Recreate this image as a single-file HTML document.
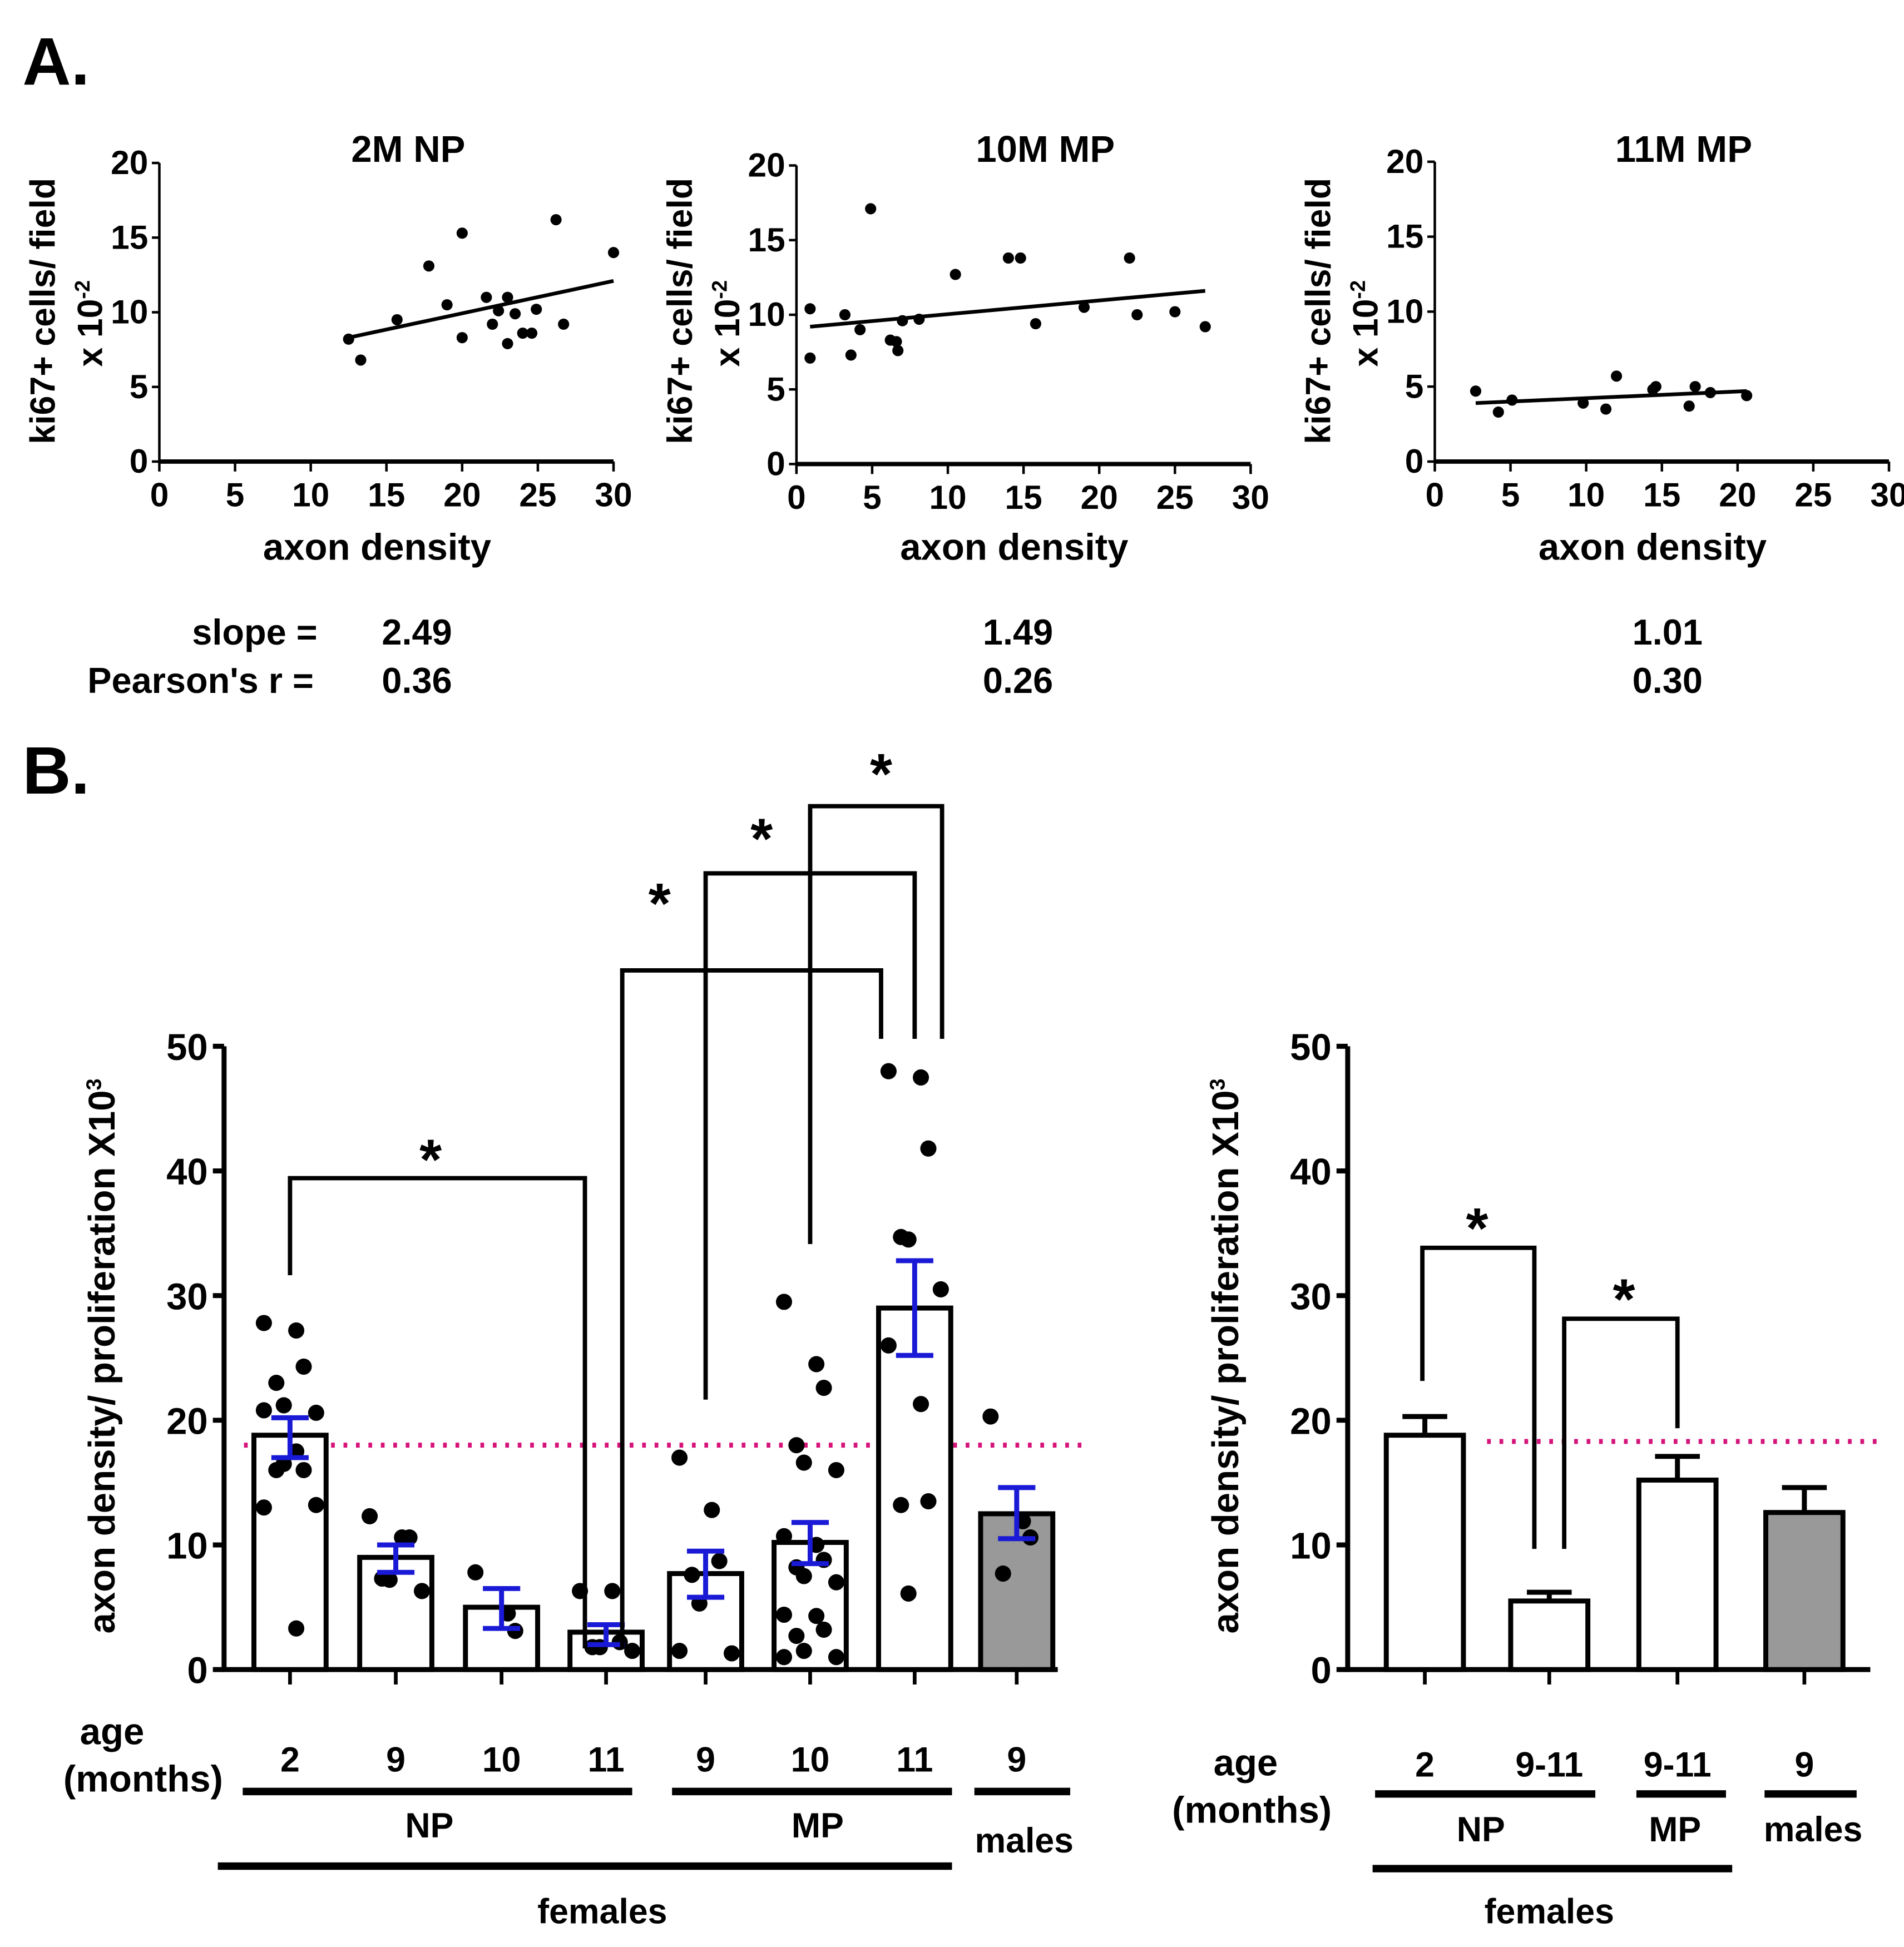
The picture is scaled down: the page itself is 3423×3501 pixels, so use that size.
<!DOCTYPE html>
<html><head><meta charset="utf-8"><style>
html,body{margin:0;padding:0;background:#fff}
svg{display:block;font-family:"Liberation Sans",Arial,sans-serif;font-weight:bold}
</style></head><body>
<svg id="fig" xmlns="http://www.w3.org/2000/svg" width="3423" height="3501" viewBox="0 0 1530 1565">
<rect width="1530" height="1565" fill="#fff"/>
<text x="18" y="68" font-size="54">A.</text>
<text x="18" y="638" font-size="54">B.</text>
<g id="gA"></g>
<g id="gB"></g>
<text x="255" y="518" font-size="29" text-anchor="end">slope =</text>
<text x="252" y="557" font-size="29" text-anchor="end">Pearson's r =</text>
</svg>
<script>
const NS="http://www.w3.org/2000/svg";
// ---- Panel A data ----
const scatterTitles=["2M NP","10M MP","11M MP"];
const scatterX1=[12.5,13.3,15.7,17.8,19,20,20,21.6,22,22.4,23,23,23.5,24,24.9,24.6,26.2,26.7,30];
const scatterY1=[8.2,6.8,9.5,13.1,10.5,15.3,8.3,11,9.2,10.1,11,7.9,9.9,8.6,10.2,8.6,16.2,9.2,14];
const scatterX2=[0.9,0.9,3.2,3.6,4.2,4.9,6.2,6.6,6.7,7,8.1,10.5,14,14.8,15.8,19,22,22.5,25,27];
const scatterY2=[10.4,7.1,10,7.3,9,17.1,8.3,8.2,7.6,9.6,9.7,12.7,13.8,13.8,9.4,10.5,13.8,10,10.2,9.2];
const scatterX3=[2.7,4.2,5.1,9.8,11.3,12,14.4,14.6,16.8,17.2,18.2,20.6];
const scatterY3=[4.7,3.3,4.1,3.9,3.5,5.7,4.8,5,3.7,5,4.6,4.4];
const fitLines=[[12.5,8.3,30,12.1],[0.9,9.2,27,11.6],[2.7,3.9,20.6,4.7]];
const slopes=["2.49","1.49","1.01"];
const pearson=["0.36","0.26","0.30"];
const xTicksA=[0,5,10,15,20,25,30];
const yTicksA=[0,5,10,15,20];
// ---- Panel B data ----
const groupAges=["2","9","10","11","9","10","11","9"];
const barMeans=[18.8,9,5,3,7.7,10.2,29,12.5];
const barLo=[17,7.8,3.3,2,5.8,8.5,25.2,10.5];
const barHi=[20.2,10,6.5,3.6,9.5,11.8,32.8,14.6];
const pts0=[27.8,27.2,24.3,23,21.2,20.6,20.8,17.5,16,16,16.5,13.2,13,3.3];
const pts1=[12.3,10.6,10.6,7.3,7.2,6.3];
const pts2=[7.8,4.5,3.1];
const pts3=[6.3,6.3,2.2,1.8,1.8,1.5];
const pts4=[17,12.8,8.7,7.6,5.3,1.3,1.5];
const pts5=[29.5,24.5,22.6,18,16.6,16,10.7,10,8.8,8.2,7.5,7,4.4,4.3,3.2,2.7,1.5,1,1];
const pts6=[48,47.5,41.8,34.7,34.5,30.5,26,21.3,13.5,13.2,6.1];
const pts7=[20.3,11.9,10.6,7.7];
const rightAges=["2","9-11","9-11","9"];
const rightMeans=[18.8,5.5,15.2,12.6];
const rightHi=[20.3,6.2,17.1,14.6];
const yTicksB=[0,10,20,30,40,50];
const refLine=18;

function el(p,tag,a,txt){const e=document.createElementNS(NS,tag);for(const k in a)e.setAttribute(k,a[k]);if(txt!==undefined)e.textContent=txt;p.appendChild(e);return e;}

const gA=document.getElementById('gA');
const origins=[[128,371,131,493],[640,373,133,1005],[1153,371,130,1518]];
const ptsets=[[scatterX1,scatterY1],[scatterX2,scatterY2],[scatterX3,scatterY3]];
const statX=[335,818,1340];
origins.forEach((o,i)=>{
  const [x0,y0,y20,x30]=o;
  const sx=v=>x0+(x30-x0)*v/30, sy=v=>y0-(y0-y20)*v/20;
  const g=el(gA,'g',{});
  
  
  const t=el(g,'text',{x:x0+200,y:130,'font-size':30,'text-anchor':'middle'},scatterTitles[i]);
  
  const ya=el(g,'path',{d:`M${x0},${y20}V${y0}`,stroke:'#000','stroke-width':2,fill:'none'});
  
  const xa=el(g,'path',{d:`M${x0},${y0}H${Math.min(x30,1530)}`,stroke:'#000','stroke-width':3.5,fill:'none'});
  
  yTicksA.forEach(v=>{el(g,'path',{d:`M${x0-6},${sy(v)}H${x0}`,stroke:'#000','stroke-width':2});
    const tl=el(g,'text',{x:x0-9,y:sy(v)+9,'font-size':27,'text-anchor':'end'},v);
    });
  xTicksA.forEach(v=>{el(g,'path',{d:`M${sx(v)},${y0}V${y0+8}`,stroke:'#000','stroke-width':2});
    const tl=el(g,'text',{x:sx(v),y:y0+36,'font-size':27,'text-anchor':'middle'},v);
    });
  const xl=el(g,'text',{x:x0+175,y:450,'font-size':30,'text-anchor':'middle'},'axon density');
  
  const yl=el(g,'text',{transform:`translate(${x0-84},250) rotate(-90)`,'font-size':28,'text-anchor':'middle'},'ki67+ cells/ field');
  
  const yl2=el(g,'text',{transform:`translate(${x0-46},260) rotate(-90)`,'font-size':28,'text-anchor':'middle'});
  
  el(yl2,'tspan',{},'x 10');el(yl2,'tspan',{dy:-10,'font-size':17},'-2');
  const L=fitLines[i];
  const fl=el(g,'line',{x1:sx(L[0]),y1:sy(L[1]),x2:sx(L[2]),y2:sy(L[3]),stroke:'#000','stroke-width':3});
  
  const [X,Y]=ptsets[i];
  X.forEach((v,j)=>{const c=el(g,'circle',{cx:sx(v),cy:sy(Y[j]),r:4.5,fill:'#000'});
    });
  const s1=el(gA,'text',{x:statX[i],y:518,'font-size':29,'text-anchor':'middle'},slopes[i]);
  
  const s2=el(gA,'text',{x:statX[i],y:557,'font-size':29,'text-anchor':'middle'},pearson[i]);
  
});

// ---- Panel B ----
const gB=document.getElementById('gB');
const by=v=>1342-(1342-841)*v/50;
function yAxisB(ax,right){
  el(gB,'path',{d:`M${ax},${by(50)}V${by(0)}H${right}`,stroke:'#000','stroke-width':4,fill:'none'});
  yTicksB.forEach(v=>{el(gB,'path',{d:`M${ax-9},${by(v)}H${ax}`,stroke:'#000','stroke-width':4});
    const t=el(gB,'text',{x:ax-13,y:by(v)+11,'font-size':30,'text-anchor':'end'},v);
    });
  const yt=el(gB,'text',{transform:`translate(${ax-88},1090) rotate(-90)`,'font-size':30,'text-anchor':'middle'});
  
  el(yt,'tspan',{},'axon density/ proliferation X10');el(yt,'tspan',{dy:-11,'font-size':17},'3');
}
function hline(x1,x2,y,w){el(gB,'path',{d:`M${x1},${y}H${x2}`,stroke:'#000','stroke-width':w||6});}
function txt(x,y,s,size,name){const t=el(gB,'text',{x:x,y:y,'font-size':size||30,'text-anchor':'middle'},s);return t;}
function bracket(xa,ya,xb,yb,top,sx,sy){
  const b=el(gB,'path',{d:`M${xa},${ya}V${top}H${xb}V${yb}`,stroke:'#000','stroke-width':3.5,fill:'none'});
  
  txt(sx,sy,'*',46,'significance-star');
}
// left
const cx=[233,318,403,487,567,651,735,817];
const allPts=[pts0,pts1,pts2,pts3,pts4,pts5,pts6,pts7];
yAxisB(180,850);
el(gB,'line',{x1:196,x2:875,y1:by(refLine),y2:by(refLine),stroke:'#d6137a','stroke-width':4,'stroke-dasharray':'3 7'});
barMeans.forEach((m,i)=>{
  const r=el(gB,'rect',{x:cx[i]-29,y:by(m),width:58,height:by(0)-by(m),fill:i==7?'#999':'#fff',stroke:'#000','stroke-width':4});
  
  el(gB,'path',{d:`M${cx[i]},${by(0)}V${by(0)+12}`,stroke:'#000','stroke-width':3});
  allPts[i].forEach((v,j)=>{const off=((j%3)-1)*16+((j%2)?5:-5);
    const c=el(gB,'circle',{cx:cx[i]+off,cy:by(v),r:6.5,fill:'#000'});
    });
  const e=el(gB,'path',{d:`M${cx[i]},${by(barLo[i])}V${by(barHi[i])}M${cx[i]-15},${by(barLo[i])}h30M${cx[i]-15},${by(barHi[i])}h30`,stroke:'#1a1ad6','stroke-width':4,fill:'none'});
  
  txt(cx[i],1424,groupAges[i],28,'age-label');
});
bracket(233,1025,470,1325,947,346,948);
bracket(500,1325,708,835,780,530,742);
bracket(567,1125,735,835,702,612,690);
bracket(651,1000,757,835,648,708,638);
txt(90,1402,'age',30,'age-title');txt(115,1440,'(months)',30,'age-title-units');
hline(195,508,1440);hline(540,765,1440);hline(783,860,1440);
txt(345,1477,'NP',28,'group-np');txt(657,1477,'MP',28,'group-mp');txt(823,1489,'males',28,'group-males');
hline(175,765,1500);txt(484,1546,'females',28,'group-females');
// right
const rx=[1145,1245,1348,1450];
yAxisB(1083,1503);
el(gB,'line',{x1:1195,x2:1515,y1:by(18.3),y2:by(18.3),stroke:'#d6137a','stroke-width':4,'stroke-dasharray':'3 7'});
rightMeans.forEach((m,i)=>{
  el(gB,'path',{d:`M${rx[i]},${by(m)}V${by(rightHi[i])}M${rx[i]-18},${by(rightHi[i])}h36`,stroke:'#000','stroke-width':4,fill:'none'});
  const r=el(gB,'rect',{x:rx[i]-31,y:by(m),width:62,height:by(0)-by(m),fill:i==3?'#999':'#fff',stroke:'#000','stroke-width':4});
  
  el(gB,'path',{d:`M${rx[i]},${by(0)}V${by(0)+12}`,stroke:'#000','stroke-width':3});
  txt(rx[i],1428,rightAges[i],28,'age-label');
});
bracket(1143,1110,1233,1245,1003,1187,1003);
bracket(1257,1245,1348,1148,1060,1305,1060);
txt(1001,1427,'age',30,'age-title');txt(1006,1465,'(months)',30,'age-title-units');
hline(1105,1282,1442);hline(1315,1387,1442);hline(1418,1492,1442);
txt(1190,1480,'NP',28,'group-np');txt(1346,1480,'MP',28,'group-mp');txt(1457,1480,'males',28,'group-males');
hline(1103,1392,1502);txt(1245,1546,'females',28,'group-females');
</script>
</body></html>
